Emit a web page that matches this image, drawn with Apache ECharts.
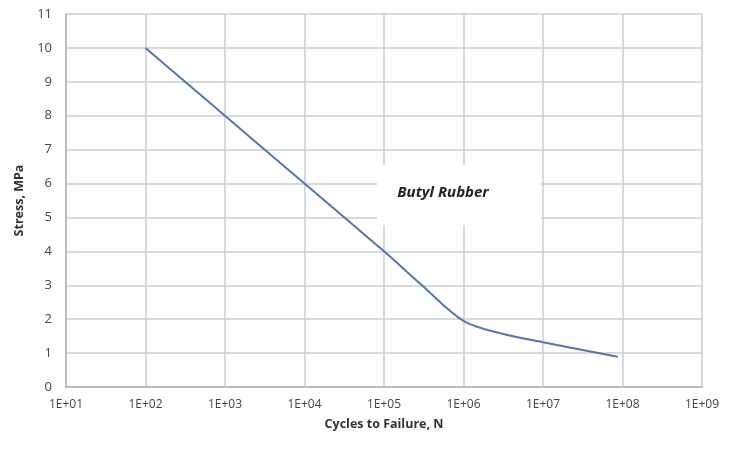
<!DOCTYPE html>
<html><head><meta charset="utf-8">
<script src="https://cdn.jsdelivr.net/npm/echarts@6/dist/echarts.min.js"></script>
<style>html,body{margin:0;padding:0;background:#fff}#c{width:735px;height:449px}</style>
</head><body><div id="c"></div>
<script>
const cycles = [1e2, 1e3, 1e4, 1e5, 3e5, 1e6, 3e6, 1e7, 8.7e7];
const stress = [10, 8, 6, 4, 3.0, 1.95, 1.58, 1.32, 0.89];
const seriesName = 'Butyl Rubber';
const xTitle = 'Cycles to Failure, N';
const yTitle = 'Stress, MPa';

const chart = echarts.init(document.getElementById('c'));
const font = 'Open Sans';
chart.setOption({
  animation: false,
  grid: {left: 66, right: 33, top: 14, bottom: 62},
  xAxis: {
    type: 'log', logBase: 10, min: 10, max: 1e9,
    name: xTitle, nameLocation: 'middle', nameGap: 31,
    nameTextStyle: {fontFamily: font, fontWeight: 'bold', fontSize: 12.5, color: '#333'},
    axisLine: {show: true, lineStyle: {color: '#b8bec9', width: 2}},
    axisTick: {show: false},
    axisLabel: {fontFamily: font, fontSize: 12, color: '#444', margin: 12,
      formatter: v => { const e = Math.round(Math.log10(v)); return '1E+' + (e < 10 ? '0' + e : e); }},
    splitLine: {show: true, lineStyle: {color: '#c9ced6', width: 1.5}},
    minorTick: {show: false}
  },
  yAxis: {
    type: 'value', min: 0, max: 11, interval: 1,
    name: yTitle, nameLocation: 'middle', nameGap: 38,
    nameTextStyle: {fontFamily: font, fontWeight: 'bold', fontSize: 12.5, color: '#333'},
    axisLine: {show: true, lineStyle: {color: '#b8bec9', width: 2}},
    axisTick: {show: false},
    axisLabel: {fontFamily: font, fontSize: 13, color: '#444', margin: 14},
    splitLine: {show: true, lineStyle: {color: '#c9ced6', width: 1.5}}
  },
  series: [{
    name: seriesName, type: 'line', smooth: 0.35, showSymbol: false,
    data: cycles.map((c, i) => [c, stress[i]]),
    lineStyle: {color: '#5577a6', width: 2}
  }],
  graphic: [
    {type: 'rect', z: 100, shape: {x: 377, y: 165, width: 164, height: 60}, style: {fill: '#fff'}},
    {type: 'text', z: 101, x: 443, y: 193, style: {text: seriesName, align: 'center', verticalAlign: 'middle',
      font: 'italic bold 15px "Open Sans"', fill: '#222'}}
  ]
});
</script></body></html>
